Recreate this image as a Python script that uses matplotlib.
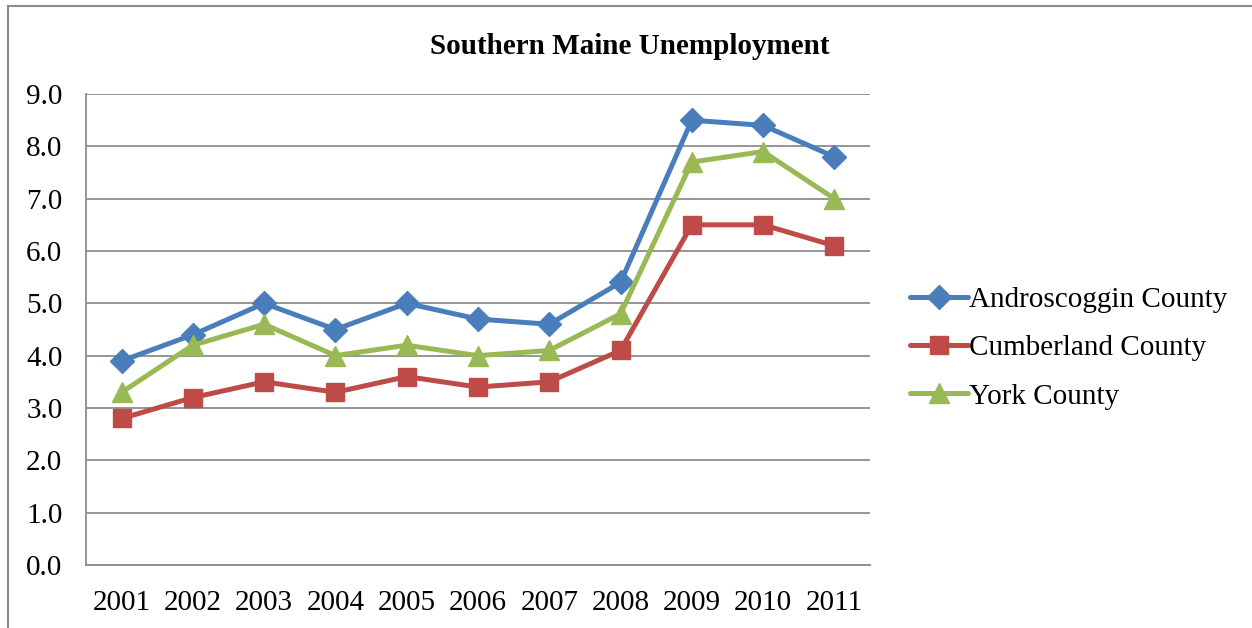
import matplotlib
matplotlib.use('Agg')
import matplotlib.pyplot as plt
from matplotlib.lines import Line2D

years = ['2001', '2002', '2003', '2004', '2005', '2006', '2007', '2008',
         '2009', '2010', '2011']
androscoggin = [3.9, 4.4, 5.0, 4.5, 5.0, 4.7, 4.6, 5.4, 8.5, 8.4, 7.8]
cumberland = [2.8, 3.2, 3.5, 3.3, 3.6, 3.4, 3.5, 4.1, 6.5, 6.5, 6.1]
york = [3.3, 4.2, 4.6, 4.0, 4.2, 4.0, 4.1, 4.8, 7.7, 7.9, 7.0]

series = [
    ('Androscoggin County', androscoggin, '#4A7EBB', 'D', 12),
    ('Cumberland County', cumberland, '#BE4B48', 's', 13),
    ('York County', york, '#98B954', '^', 14),
]

plt.rcParams['font.family'] = ['Liberation Serif', 'DejaVu Serif']

fig = plt.figure(figsize=(12.52, 6.28), dpi=100)
ax = fig.add_axes([86 / 1252, 1 - 565 / 628, (870 - 86) / 1252, (565 - 94) / 628])

x = list(range(len(years)))
for label, vals, color, marker, ms in series:
    ax.plot(x, vals, color=color, lw=3.6, marker=marker, markersize=ms,
            label=label, solid_joinstyle='round', solid_capstyle='round')

ax.set_xlim(-0.5, len(years) - 0.5)
ax.set_ylim(0, 9)
ax.set_yticks([i for i in range(10)])
ax.set_yticklabels(['%.1f' % i for i in range(10)])
ax.set_xticks(x)
ax.set_xticklabels(years)
ax.tick_params(length=0, labelsize=21)
ax.tick_params(axis='y', pad=17)
ax.tick_params(axis='x', pad=18)
ax.grid(True, axis='y', color='#8C8C8C', lw=1.3)
ax.set_axisbelow(True)
for side in ('top', 'right'):
    ax.spines[side].set_visible(False)
for side in ('left', 'bottom'):
    ax.spines[side].set_color('#8C8C8C')
    ax.spines[side].set_linewidth(1.3)

fig.text(630 / 1252, 1 - 46 / 628, 'Southern Maine Unemployment',
         ha='center', va='center', fontsize=21, fontweight='bold')

leg = fig.legend(loc='center left', bbox_to_anchor=(895 / 1252, 1 - 348 / 628),
                 frameon=False, fontsize=21, handlelength=2.0,
                 handletextpad=0.05, labelspacing=0.75, borderpad=0)

# outer chart border (left and top edges)
fig.add_artist(Line2D([7.5 / 1252, 7.5 / 1252], [0, 1 - 6 / 628],
                      color='#8C8C8C', lw=1.5))
fig.add_artist(Line2D([7.5 / 1252, 1], [1 - 6 / 628, 1 - 6 / 628],
                      color='#8C8C8C', lw=1.5))

fig.savefig('out.png', dpi=100)
